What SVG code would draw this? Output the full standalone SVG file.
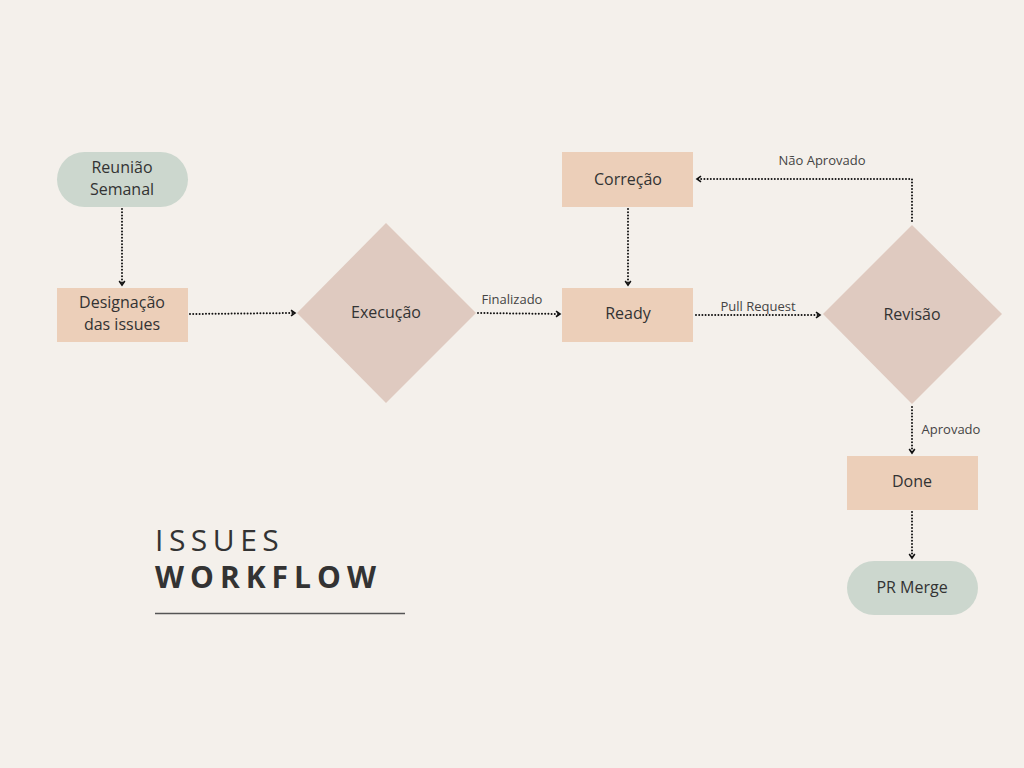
<svg xmlns="http://www.w3.org/2000/svg" width="1024" height="768" viewBox="0 0 1024 768">
<defs>
<style>
.pill{fill:#CCD7CE}
.box{fill:#ECCFB9}
.dia{fill:#DFCAC0}
.t{font-family:"Open Sans","Noto Sans",sans-serif;font-size:16px;fill:#333;text-anchor:middle}
.lbl{font-family:"Open Sans","Noto Sans",sans-serif;font-size:13px;fill:#444;text-anchor:middle}
.c{fill:none;stroke:#111;stroke-width:2;stroke-dasharray:0 3.2;stroke-linecap:round}
.ttl{font-family:"Open Sans","Noto Sans",sans-serif;font-size:30px;fill:#333}
</style>
<marker id="ah" viewBox="0 0 10 10" refX="7" refY="5" markerWidth="8" markerHeight="8" markerUnits="userSpaceOnUse" orient="auto">
<path d="M2,1.5 L7,5 L2,8.5" fill="none" stroke="#111" stroke-width="2"/>
</marker>
</defs>
<rect width="1024" height="768" fill="#F4F0EB"/>
<g id="connectors">
<path class="c" d="M122,209 L122,285" marker-end="url(#ah)"/>
<path class="c" d="M190,314 L295,313" marker-end="url(#ah)"/>
<path class="c" d="M478,313 L560,314" marker-end="url(#ah)"/>
<path class="c" d="M628,209 L628,285" marker-end="url(#ah)"/>
<path class="c" d="M696,315 L820,315" marker-end="url(#ah)"/>
<path class="c" d="M912,221 L912,179 L697,179" marker-end="url(#ah)"/>
<path class="c" d="M912,407 L912,453" marker-end="url(#ah)"/>
<path class="c" d="M912,512 L912,558" marker-end="url(#ah)"/>
<text class="lbl" x="512" y="304">Finalizado</text>
<text class="lbl" x="758" y="311">Pull Request</text>
<text class="lbl" x="822" y="165">Não Aprovado</text>
<text class="lbl" x="951" y="434">Aprovado</text>
</g>
<g id="reuniao"><rect class="pill" x="57" y="152" width="131" height="55" rx="27.5"/><text class="t" x="122" y="173">Reunião</text><text class="t" x="122" y="195">Semanal</text></g>
<g id="designacao"><rect class="box" x="57" y="288" width="131" height="54"/><text class="t" x="122" y="308">Designação</text><text class="t" x="122" y="330">das issues</text></g>
<g id="execucao"><polygon class="dia" points="386,223 476,313 386,403 297,313"/><text class="t" x="386" y="318">Execução</text></g>
<g id="correcao"><rect class="box" x="562" y="152" width="131" height="55"/><text class="t" x="628" y="185">Correção</text></g>
<g id="ready"><rect class="box" x="562" y="288" width="131" height="54"/><text class="t" x="628" y="319">Ready</text></g>
<g id="revisao"><polygon class="dia" points="912,225 1002,314 912,404 823,314"/><text class="t" x="912" y="320">Revisão</text></g>
<g id="done"><rect class="box" x="847" y="456" width="131" height="54"/><text class="t" x="912" y="487">Done</text></g>
<g id="prmerge"><rect class="pill" x="847" y="561" width="131" height="54" rx="27"/><text class="t" x="912" y="593">PR Merge</text></g>
<g id="title">
<text class="ttl" x="155" y="551" letter-spacing="5.5">ISSUES</text>
<text class="ttl" x="155" y="588" font-weight="bold" letter-spacing="6">WORKFLOW</text>
<line x1="155" y1="613.5" x2="405" y2="613.5" stroke="#555" stroke-width="1.5"/>
</g>
</svg>
